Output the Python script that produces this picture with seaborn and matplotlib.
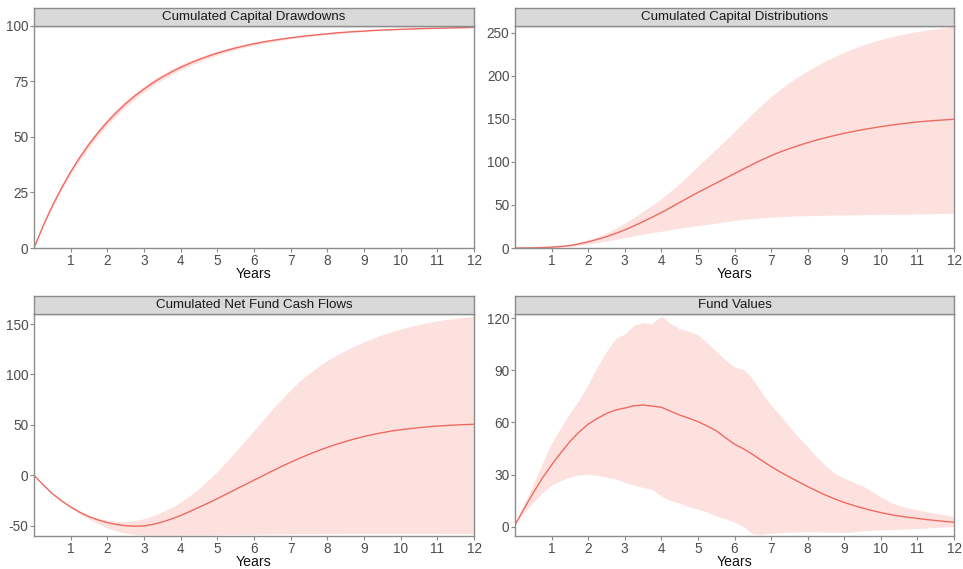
import matplotlib
matplotlib.use("Agg")
import matplotlib.pyplot as plt
import seaborn as sns
import pandas as pd

# Time grid (years), quarterly steps, shared by every series
years = [i / 4 for i in range(49)]

# Cumulated capital drawdowns: median and quantile band
drawdowns_mid = [0, 10.0, 19.0, 27.0, 34.3, 40.8, 46.7, 52.0, 56.8, 61.1, 65.0, 68.5, 71.6,
                 74.5, 77.0, 79.3, 81.4, 83.2, 84.9, 86.4, 87.8, 89.0, 90.1, 91.1, 92.0,
                 92.8, 93.5, 94.1, 94.7, 95.2, 95.7, 96.1, 96.5, 96.9, 97.2, 97.5, 97.7,
                 98.0, 98.2, 98.35, 98.5, 98.65, 98.8, 98.9, 99.0, 99.1, 99.2, 99.3, 99.4]
drawdowns_lo = [0, 9.5, 18.2, 26.0, 33.1, 39.45, 45.2, 50.5, 55.3, 59.6, 63.5, 67.05, 70.2,
                73.15, 75.7, 78.05, 80.2, 82.1, 83.9, 85.45, 86.9, 88.15, 89.3, 90.35, 91.3,
                92.15, 92.9, 93.55, 94.2, 94.72, 95.25, 95.68, 96.1, 96.52, 96.85, 97.17,
                97.4, 97.7, 97.9, 98.07, 98.25, 98.42, 98.6, 98.7, 98.8, 98.9, 99.0, 99.1,
                99.2]
drawdowns_hi = [0, 10.5, 19.8, 28.0, 35.5, 42.15, 48.2, 53.5, 58.3, 62.6, 66.5, 69.95, 73.0,
                75.85, 78.3, 80.55, 82.6, 84.3, 85.9, 87.35, 88.7, 89.85, 90.9, 91.85, 92.7,
                93.45, 94.1, 94.65, 95.2, 95.68, 96.15, 96.52, 96.9, 97.28, 97.55, 97.83,
                98.0, 98.3, 98.5, 98.63, 98.75, 98.88, 99.0, 99.1, 99.2, 99.3, 99.4, 99.5,
                99.6]

# Cumulated capital distributions
distrib_mid = [0, 0.05, 0.2, 0.5, 1.0, 1.8, 2.8, 4.8, 7.2, 10.0, 13.2, 16.9, 21.0, 25.7,
               30.7, 35.9, 41.2, 47.0, 52.9, 58.7, 64.5, 70.0, 75.5, 81.0, 86.5, 92.0, 97.3,
               102.5, 107.3, 111.6, 115.5, 119.1, 122.4, 125.5, 128.3, 130.9, 133.3, 135.5,
               137.5, 139.3, 141.0, 142.6, 144.0, 145.3, 146.5, 147.4, 148.2, 148.9, 149.6]
distrib_lo = [0, 0.03, 0.1, 0.25, 0.5, 1.1, 2.0, 3.1, 4.5, 6.2, 8.0, 10.0, 12.0, 14.0, 16.0,
              17.8, 19.5, 21.3, 23.0, 24.6, 26.0, 27.5, 29.0, 30.6, 32.0, 33.2, 34.2, 35.1,
              35.9, 36.5, 37.0, 37.3, 37.6, 37.8, 38.0, 38.2, 38.4, 38.6, 38.8, 38.95, 39.1,
              39.2, 39.3, 39.4, 39.5, 39.7, 39.9, 40.1, 40.3]
distrib_hi = [0, 0.1, 0.3, 0.8, 1.5, 2.8, 4.6, 6.9, 9.7, 13.2, 17.4, 22.9, 29.0, 35.6, 42.6,
              49.9, 57.5, 66.0, 75.0, 84.8, 95.0, 105.0, 115.0, 125.0, 135.5, 146.0, 156.5,
              166.5, 176.0, 184.5, 192.3, 199.5, 206.0, 212.0, 217.5, 222.7, 227.5, 231.8,
              235.7, 239.2, 242.3, 245.0, 247.4, 249.6, 251.5, 253.2, 254.7, 256.0, 257.2]

# Cumulated net fund cash flows
netcf_mid = [0, -9.5, -18.2, -25.3, -31.4, -36.7, -41.0, -44.3, -46.9, -48.8, -50.0, -50.5,
             -50.2, -48.6, -46.3, -43.3, -39.8, -35.9, -31.7, -27.5, -23.1, -18.5, -13.9,
             -9.3, -4.8, -0.2, 4.3, 8.8, 13.0, 17.0, 20.8, 24.4, 27.7, 30.8, 33.6, 36.2,
             38.5, 40.5, 42.3, 43.9, 45.2, 46.3, 47.3, 48.1, 48.8, 49.4, 49.9, 50.3, 50.6]
netcf_lo = [0, -9.8, -19.0, -26.3, -32.4, -38.3, -43.5, -48.2, -52.2, -55.2, -57.3, -58.6,
            -59.3, -59.5, -59.5, -59.4, -59.3, -59.2, -59.1, -59.0, -58.9, -58.8, -58.7,
            -58.6, -58.5, -58.4, -58.3, -58.2, -58.1, -58.0, -58.0, -57.9, -57.9, -57.9,
            -57.8, -57.8, -57.8, -57.8, -57.8, -57.8, -57.8, -57.8, -57.8, -57.8, -57.8,
            -57.9, -57.9, -58.0, -58.0]
netcf_hi = [0, -9.2, -17.5, -24.5, -30.5, -35.5, -39.7, -42.6, -44.6, -45.6, -45.8, -45.0,
            -43.0, -40.0, -36.3, -31.8, -26.5, -20.2, -13.0, -4.8, 4.0, 13.5, 23.5, 34.0,
            44.5, 55.0, 65.5, 75.5, 85.0, 93.5, 101.0, 107.8, 113.8, 119.2, 124.0, 128.4,
            132.3, 136.0, 139.4, 142.4, 145.1, 147.5, 149.7, 151.6, 153.2, 154.6, 155.8,
            156.8, 157.7]

# Fund values
nav_mid = [1, 10.5, 19.5, 28.0, 35.5, 42.5, 49.0, 54.5, 59.0, 62.3, 65.2, 67.2, 68.3, 69.6,
           70.1, 69.4, 68.8, 66.5, 64.3, 62.5, 60.5, 58.0, 55.2, 51.3, 47.5, 44.8, 41.5,
           38.0, 34.6, 31.5, 28.6, 25.8, 23.1, 20.5, 18.1, 15.9, 13.9, 12.2, 10.7, 9.3, 8.1,
           7.0, 6.1, 5.4, 4.7, 4.1, 3.5, 3.0, 2.5]
nav_lo = [1, 8.0, 14.0, 19.5, 24.0, 26.5, 28.5, 29.8, 30.2, 29.5, 28.5, 27.5, 25.5, 24.0,
          22.5, 21.5, 17.5, 15.0, 13.5, 11.5, 10.0, 8.5, 6.0, 4.5, 2.5, 0.0, -4.2, -4.5,
          -3.8, -3.5, -3.2, -3.0, -2.9, -3.0, -3.1, -3.3, -3.4, -3.0, -2.5, -2.2, -1.9, -1.7,
          -1.5, -1.2, -1.0, -0.8, -0.5, -0.2, 0.0]
nav_hi = [1, 13.0, 24.5, 36.5, 48.0, 57.0, 65.5, 73.0, 82.0, 92.0, 101.0, 108.5, 111.0,
          116.0, 117.5, 117.0, 121.5, 117.0, 114.0, 112.5, 110.5, 106.0, 101.0, 96.0, 92.0,
          90.5, 85.0, 77.0, 70.0, 64.0, 57.6, 51.5, 46.0, 40.0, 35.0, 30.5, 28.0, 25.5,
          23.5, 20.5, 17.0, 14.2, 12.0, 10.8, 9.7, 8.6, 7.7, 6.8, 5.8]

titles = ["Cumulated Capital Drawdowns", "Cumulated Capital Distributions",
          "Cumulated Net Fund Cash Flows", "Fund Values"]
y_ticks = [[0, 25, 50, 75, 100], [0, 50, 100, 150, 200, 250],
           [-50, 0, 50, 100, 150], [0, 30, 60, 90, 120]]
y_limits = [(0, 100), (0, 258), (-60.2, 160), (-5.4, 122.5)]
x_ticks = list(range(1, 13))

series = [(drawdowns_mid, drawdowns_lo, drawdowns_hi),
          (distrib_mid, distrib_lo, distrib_hi),
          (netcf_mid, netcf_lo, netcf_hi),
          (nav_mid, nav_lo, nav_hi)]

sns.set_theme(style="white")
plt.rcParams["font.family"] = ["Liberation Sans", "DejaVu Sans"]

LINE = "#EE6A60"
BAND = "#FDE1DF"
FRAME = "#8C8C8C"
TICKTXT = "#4D4D4D"

W, H = 963, 569
fig = plt.figure(figsize=(W / 100, H / 100), dpi=100)

# panel boxes in pixels: (left, top, right, bottom)
boxes = [(34, 26, 474, 248), (515, 26, 954, 248),
         (34, 314, 474, 536), (515, 314, 954, 536)]
STRIP_H = 18

for i, (title, (mid, lo, hi)) in enumerate(zip(titles, series)):
    l, t, r, b = boxes[i]
    ax = fig.add_axes([l / W, 1 - b / H, (r - l) / W, (b - t) / H])
    df = pd.DataFrame({"Years": years, "median": mid, "lower": lo, "upper": hi})
    ax.fill_between(df["Years"], df["lower"], df["upper"], color=BAND, linewidth=0)
    sns.lineplot(data=df, x="Years", y="median", ax=ax, color=LINE, linewidth=1.0,
                 errorbar=None)
    ax.set_xlim(0, 12)
    ax.set_ylim(*y_limits[i])
    ax.set_xticks(x_ticks)
    ax.set_yticks(y_ticks[i])
    ax.set_xticklabels([str(v) for v in x_ticks])
    ax.set_yticklabels([str(v) for v in y_ticks[i]])
    ax.tick_params(axis="both", length=3, width=0.8, color=FRAME, labelcolor=TICKTXT,
                   labelsize=9.8, pad=1.0, bottom=True, left=True)
    ax.set_xlabel("Years", fontsize=10.2, color="#111111", labelpad=-0.5)
    ax.set_ylabel("")
    for s in ax.spines.values():
        s.set_visible(True)
        s.set_color(FRAME)
        s.set_linewidth(1.0)
    ax.set_facecolor("white")

    # facet strip
    sax = fig.add_axes([l / W, 1 - t / H, (r - l) / W, STRIP_H / H])
    sax.set_facecolor("#D9D9D9")
    sax.set_xticks([])
    sax.set_yticks([])
    for s in sax.spines.values():
        s.set_visible(True)
        s.set_color(FRAME)
        s.set_linewidth(1.0)
    sax.text(0.5, 0.5, title, ha="center", va="center", fontsize=9.6,
             color="#1A1A1A", transform=sax.transAxes)

fig.savefig("out.png", dpi=100, facecolor="white")
